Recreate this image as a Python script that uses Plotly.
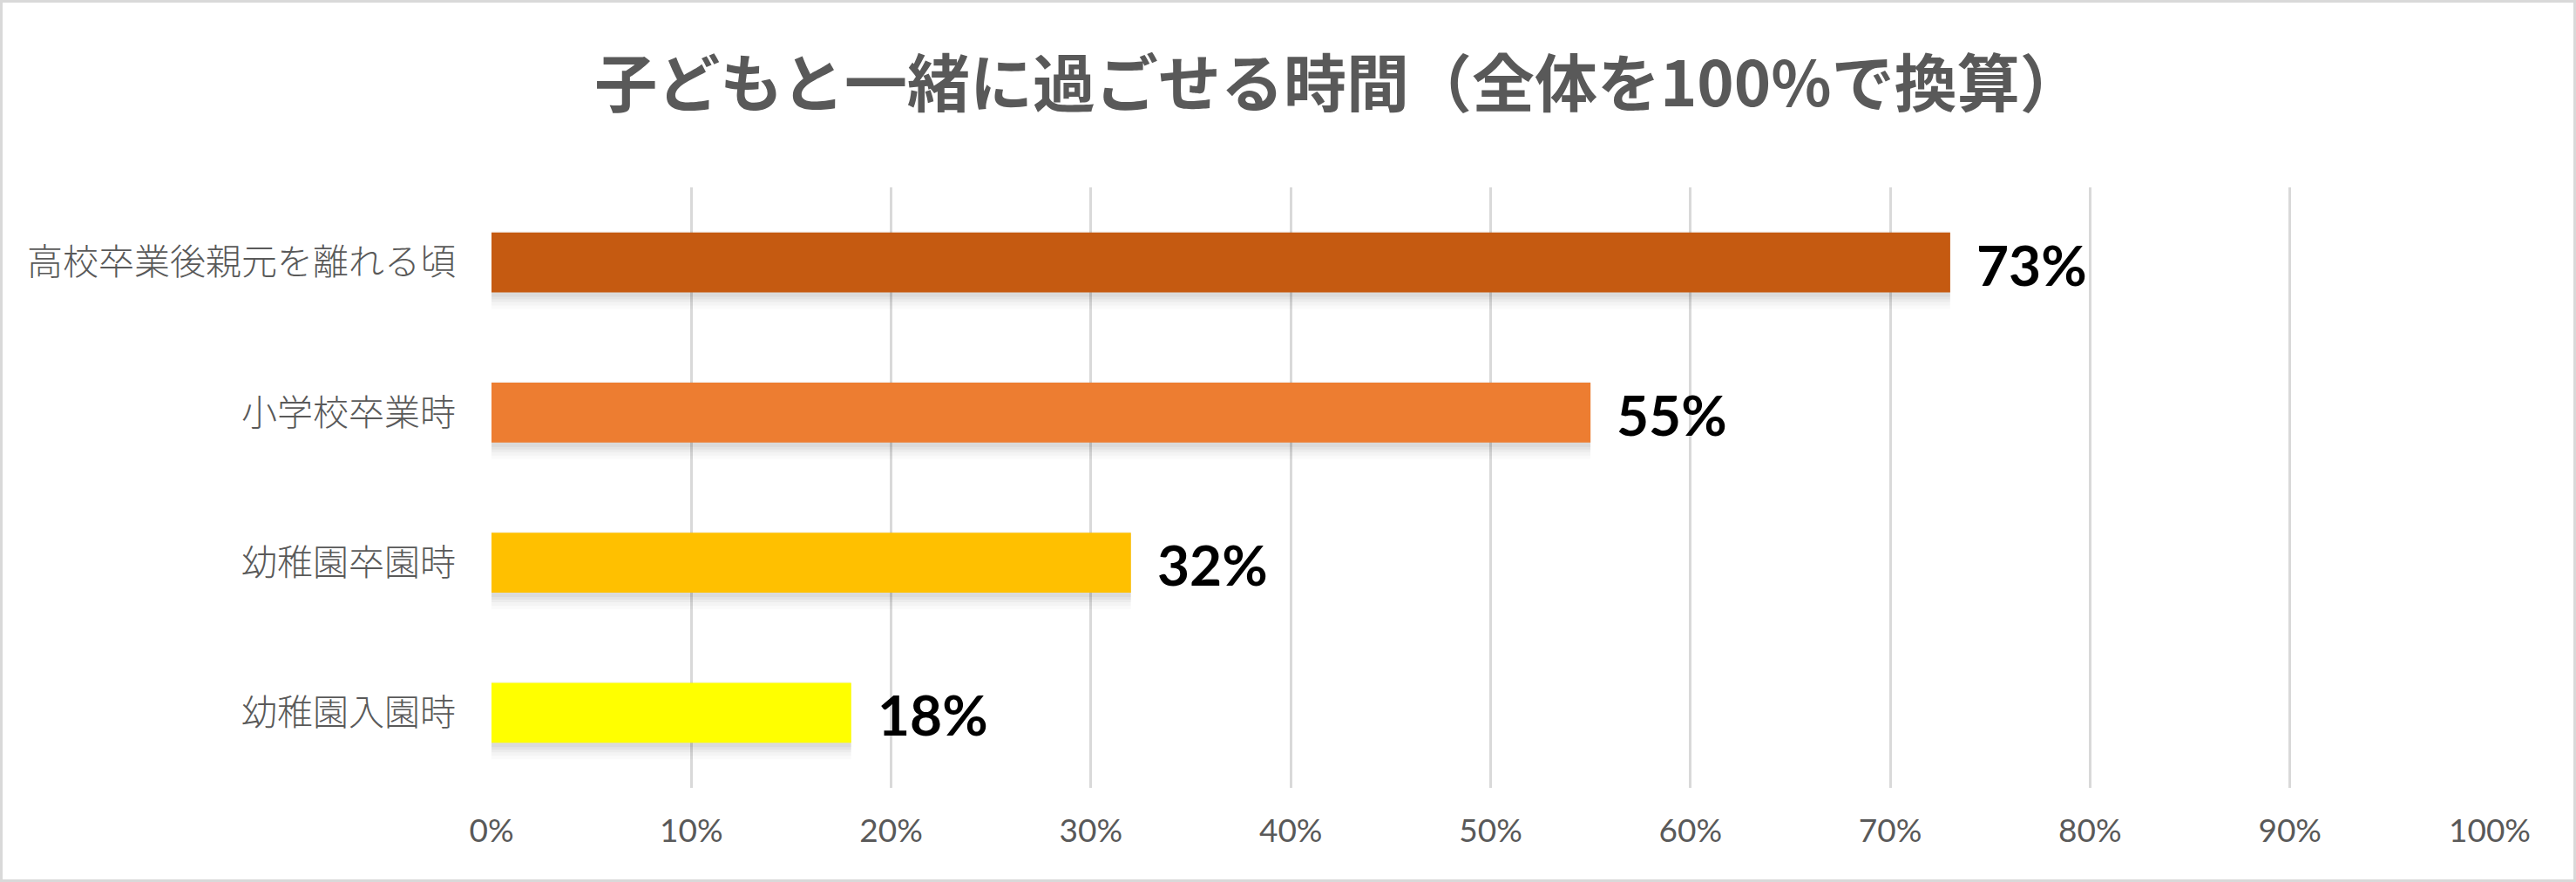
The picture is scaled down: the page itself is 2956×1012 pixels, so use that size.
import plotly.graph_objects as go

# --- data ---
categories = ["高校卒業後親元を離れる頃", "小学校卒業時", "幼稚園卒園時", "幼稚園入園時"]
values = [73, 55, 32, 18]
bar_colors = ["#C55A11", "#ED7D31", "#FFC000", "#FFFF00"]
tick_values = [0, 10, 20, 30, 40, 50, 60, 70, 80, 90, 100]
tick_labels = [f"{v}%" for v in tick_values]
title_text = "子どもと一緒に過ごせる時間（全体を100%で換算）"

W, H = 2956, 1012
L, R, T, B = 564, 99, 215, 108
pw, ph = W - L - R, H - T - B

BAR_W = 0.4
fig = go.Figure()

# soft shadow under bars (imitating Excel's outer shadow)
for w, shift, alpha in [(0.52, 0.05, 0.02), (0.49, 0.042, 0.025), (0.46, 0.034, 0.03),
                        (0.44, 0.026, 0.035), (0.42, 0.018, 0.04)]:
    fig.add_trace(go.Bar(
        y=categories, x=values, orientation="h",
        marker=dict(color=f"rgba(0,0,0,{alpha})", line=dict(width=0)),
        width=w, offset=-w / 2 + shift, hoverinfo="skip", showlegend=False,
    ))

fig.add_trace(go.Bar(
    y=categories, x=values, orientation="h",
    marker=dict(color=bar_colors, line=dict(width=0)),
    width=BAR_W, offset=-BAR_W / 2, hoverinfo="skip", showlegend=False,
))

for c, v in zip(categories, values):
    fig.add_annotation(
        x=v, y=c, xref="x", yref="y", text=f"<b>{v}%</b>",
        showarrow=False, xanchor="left", yanchor="middle", xshift=28, yshift=-2,
        font=dict(family="Lato, 'Open Sans', sans-serif", size=64, color="#000000"),
    )

fig.update_layout(
    width=W, height=H,
    margin=dict(l=L, r=R, t=T, b=B, pad=0),
    paper_bgcolor="#FFFFFF", plot_bgcolor="#FFFFFF",
    barmode="overlay",
    title=dict(
        text=f"<b>{title_text}</b>",
        x=1536 / W, xanchor="center", xref="container",
        y=1 - 97 / H, yanchor="middle", yref="container",
        font=dict(family="Noto Sans CJK JP", size=72, color="#595959"),
    ),
    xaxis=dict(
        range=[0, 100], tickvals=tick_values, ticktext=tick_labels,
        showgrid=True, gridcolor="#D9D9D9", gridwidth=3,
        zeroline=False, showline=False, ticks="",
        tickfont=dict(family="Lato, 'Open Sans', sans-serif", size=37, color="#595959"),
        ticklabelstandoff=24, fixedrange=True,
    ),
    yaxis=dict(
        categoryorder="array", categoryarray=categories, autorange="reversed",
        showgrid=False, zeroline=False, showline=False, ticks="",
        tickfont=dict(family="Noto Sans CJK JP", size=41, color="#595959", weight=300),
        ticklabelstandoff=40, fixedrange=True,
    ),
    shapes=[dict(
        type="rect", xref="paper", yref="paper",
        x0=(1.5 - L) / pw, x1=(W - 1.5 - L) / pw,
        y0=-(H - 1.5 - T - ph) / ph, y1=1 + (T - 1.5) / ph,
        line=dict(color="#D9D9D9", width=3), fillcolor="rgba(0,0,0,0)", layer="below",
    )],
)

fig.write_html("out.html", config={"displayModeBar": False})
